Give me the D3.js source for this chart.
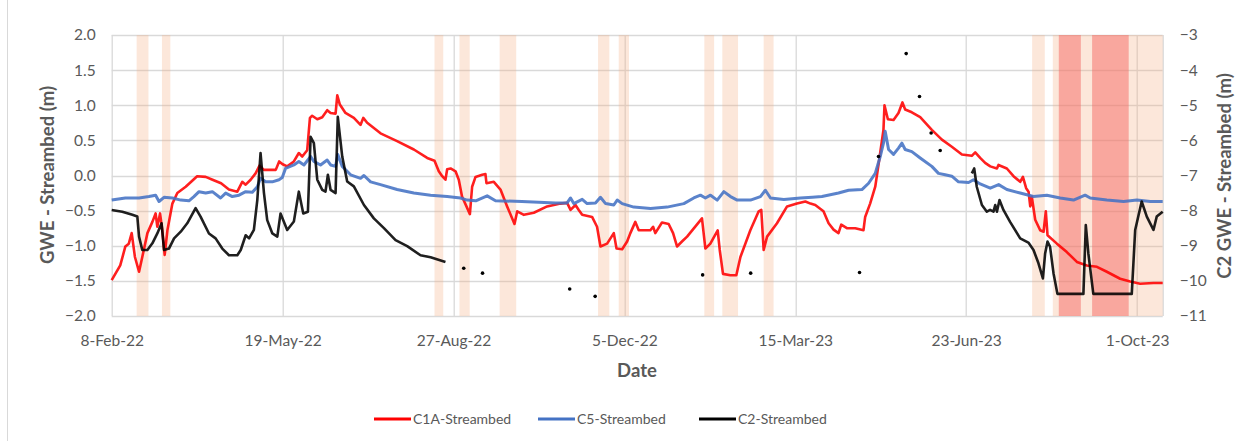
<!DOCTYPE html>
<html>
<head>
<meta charset="utf-8">
<script src="https://cdn.jsdelivr.net/npm/d3@7"></script>
<style>
body{margin:0;background:#fff;}
text{font-family:Lato, "Open Sans", sans-serif;fill:#595959;}
.title{font-weight:bold;font-size:18.5px;}
</style>
</head>
<body>
<div class="canvas"></div>
<script>
// days counted from 8-Feb-22
var startDate = new Date(2022,1,8), endDate = new Date(2023,9,16);
var xTickDays = [0,100,200,300,400,500,600];
var leftTicks = [-2,-1.5,-1,-0.5,0,0.5,1,1.5,2];
var rightTicks = [-11,-10,-9,-8,-7,-6,-5,-4,-3];

var c1aDay = [0,5,8,10,11.7,13.6,16,17.9,20.9,23.8,25.7,26.7,28.3,29.6,31,32.6,35.5,38.4,43.3,50,55,59,64,68.6,73.5,76.4,78.4,81.3,84.2,86.5,89,92,96,98,100,102.7,106.6,109.5,111.5,114.4,116,117.3,120.3,123.2,126.1,128.1,131,132,133.5,136.8,141.7,145.6,147.2,149.5,157.3,167,176.8,184.6,188.9,191.4,193.4,195.3,196.3,198.3,201.2,203.1,205,209.6,210.9,212.9,216.8,218.7,219.3,223.6,227.5,231.4,235.7,237.3,241.2,247,254.8,262.6,266.5,268.5,271.4,273.3,275.3,281.1,284,286,289.9,293.8,295.4,298.7,301.6,303.5,306.4,308.4,315.2,316.8,318.1,322,325.9,328.5,330.8,333.7,336.7,345.4,347.4,350.3,354.6,355.8,357.7,362,365.5,367.9,373.7,378.6,380.1,381.5,383.5,389.3,395.2,401,405.9,408.9,411.7,416.5,419.5,422.4,425.3,426.9,430.2,435.1,439.9,440.9,443.8,446.8,449.1,451.6,452.2,454.2,457.5,460.4,462.7,464.3,468.2,473.1,479.9,485.8,491.6,497.5,503.3,505.3,508.2,511.1,514.1,518,518.9,523.8,527.7,531.6,533.2,535.1,536.5,537.5,538.4,540.4,543.3,545.3,546.6,547.6,553.1,558.9,564.8,570.6,576.5,582.3,590.1,596,601.8,609.6,615];
var c1aVal = [-1.49,-1.28,-1.01,-0.97,-0.82,-1.16,-1.37,-1.16,-0.82,-0.66,-0.54,-0.73,-0.54,-0.78,-1.13,-0.78,-0.40,-0.25,-0.16,-0.01,-0.02,-0.06,-0.11,-0.20,-0.23,-0.09,-0.13,-0.06,0.03,0.14,0.08,0.08,0.08,0.20,0.16,0.13,0.20,0.32,0.27,0.36,0.82,0.85,0.80,0.83,0.93,0.89,0.88,1.14,1.01,0.89,0.82,0.72,0.82,0.75,0.60,0.49,0.37,0.25,0.21,0.06,-0.01,-0.06,0.09,0.10,0.06,-0.06,-0.30,-0.55,-0.16,-0.02,0.01,0.02,-0.11,-0.09,-0.20,-0.44,-0.69,-0.51,-0.56,-0.53,-0.44,-0.40,-0.39,-0.49,-0.42,-0.49,-0.56,-0.59,-0.73,-1.01,-0.97,-0.82,-1.04,-1.05,-0.94,-0.82,-0.66,-0.78,-0.78,-0.73,-0.82,-0.67,-0.69,-0.82,-1.01,-0.94,-0.87,-0.61,-1.04,-0.97,-0.78,-1.06,-1.40,-1.42,-1.42,-1.16,-0.78,-0.51,-0.49,-1.06,-0.87,-0.68,-0.44,-0.40,-0.37,-0.40,-0.42,-0.51,-0.68,-0.77,-0.82,-0.70,-0.75,-0.75,-0.78,-0.59,-0.40,-0.16,0.22,0.65,1.00,0.80,0.79,0.89,1.04,0.94,0.90,0.83,0.65,0.51,0.41,0.30,0.28,0.33,0.25,0.18,0.13,0.10,0.15,0.10,-0.01,-0.09,-0.02,-0.18,-0.23,-0.44,-0.30,-0.63,-0.78,-0.80,-0.51,-0.85,-0.97,-1.09,-1.23,-1.28,-1.30,-1.37,-1.47,-1.51,-1.54,-1.53,-1.53];

var c5Day = [0,8,16,21.8,25.7,27.7,30.6,35.5,40.4,45.2,48.1,51.1,55,58.9,63.7,66.7,70.6,74.5,78.4,82.3,85.2,87.1,90.1,94,97.9,99.8,101.7,106.6,109.5,112.5,116.4,118.3,122.2,126.1,128.1,131,132.3,134.9,139.8,145.6,147.6,151.5,157.3,167,176.8,186.6,196.3,204.1,208,213,219.7,224.6,240,259.7,266.5,268.5,270.4,275.3,278.2,283.1,286,289,293.8,295.8,298.7,305.5,315.3,325,334.8,340.6,344.5,347.4,350.4,354.3,358.2,362.1,366,373.8,379.6,382.5,385.5,393.3,403,410,415.6,425.3,431.2,439,442.9,446.8,449.7,451.6,452.6,454.6,457.5,460.4,462.4,464.3,468.2,473.1,479.9,483.8,487.7,491.6,495.5,501.4,504.3,508.2,514.1,519,523.8,531.6,539.4,547.2,555,562.8,569.6,572.6,582.3,592.1,599.9,607.7,615];
var c5Val = [-0.35,-0.32,-0.32,-0.30,-0.28,-0.37,-0.31,-0.32,-0.35,-0.36,-0.30,-0.23,-0.25,-0.23,-0.32,-0.25,-0.30,-0.28,-0.23,-0.24,-0.16,-0.04,-0.09,-0.09,-0.06,-0.03,0.10,0.15,0.20,0.15,0.27,0.20,0.15,0.22,0.15,0.13,0.30,0.13,0.01,-0.04,0.00,-0.09,-0.13,-0.20,-0.25,-0.28,-0.30,-0.32,-0.35,-0.36,-0.29,-0.36,-0.37,-0.39,-0.39,-0.32,-0.40,-0.34,-0.40,-0.39,-0.31,-0.40,-0.42,-0.35,-0.40,-0.45,-0.47,-0.45,-0.40,-0.32,-0.28,-0.32,-0.28,-0.35,-0.23,-0.30,-0.35,-0.35,-0.30,-0.21,-0.32,-0.34,-0.32,-0.31,-0.30,-0.25,-0.21,-0.20,-0.11,0.03,0.27,0.46,0.63,0.37,0.30,0.39,0.46,0.37,0.34,0.25,0.13,0.03,0.01,-0.01,-0.09,-0.10,-0.06,-0.12,-0.18,-0.13,-0.20,-0.25,-0.30,-0.28,-0.32,-0.35,-0.28,-0.32,-0.35,-0.37,-0.35,-0.37,-0.37];

// C2 logger record, null marks the gap
var c2Day = [0,6.2,12.1,15,16,17.9,20.9,23.8,26.7,29.2,30.6,33.5,36.5,40.4,44.2,49.1,52,56.9,60.8,64.7,68.6,73.5,75.5,78.4,80.4,83.2,85.2,87.1,89.1,91,94,96.9,98.8,102.7,106.6,109.5,112.1,114.8,116.4,118.3,120.3,123.2,125.1,126.5,128.1,131,132.3,134.9,137.8,141.7,147.6,153.4,159.3,166.1,172.9,180.7,186.6,195.3,300,503.3,504.7,506.2,509.2,512.1,514,516,517,518,519.5,521.8,525.7,531.6,536.4,539.4,542.3,544.9,546.2,547.6,549.1,551.1,553.4,568.6,570,571.5,574.4,596.9,598.9,602.7,605.7,609.6,611.5,615];
var c2Val = [-7.98,-8.03,-8.12,-8.17,-8.74,-9.12,-9.12,-8.93,-8.65,-8.36,-9.12,-9.08,-8.79,-8.60,-8.36,-7.93,-8.17,-8.65,-8.79,-9.08,-9.27,-9.27,-9.12,-8.70,-8.79,-8.55,-7.70,-6.36,-7.50,-8.27,-8.65,-8.74,-8.08,-8.55,-8.31,-7.46,-8.08,-8.03,-5.90,-6.08,-7.12,-7.41,-7.46,-6.98,-7.41,-7.50,-5.33,-6.46,-7.17,-7.31,-7.84,-8.22,-8.50,-8.84,-9.01,-9.27,-9.33,-9.46,null,-6.94,-6.80,-7.32,-7.84,-8.03,-7.98,-8.03,-7.84,-8.03,-7.70,-7.98,-8.32,-8.79,-8.91,-9.12,-9.50,-9.93,-9.22,-8.88,-9.03,-9.78,-10.37,-10.37,-8.41,-9.22,-10.37,-10.37,-8.55,-7.74,-8.17,-8.55,-8.17,-8.03];

// C2 manual readings
var c2DotDay = [206,217,268,282.9,345.8,373.9,437.6,448.7,464.9,472.7,479.5,484.8];
var c2DotVal = [-9.64,-9.78,-10.23,-10.44,-9.83,-9.78,-9.76,-6.46,-3.53,-4.75,-5.79,-6.29];

// shaded periods
var lightStart = [14.6,29.4,188.9,203.5,227,284.6,296.7,346.8,357.3,381.5,538.6,550.7];
var lightEnd   = [21.5,34.3,194,209.5,236.7,291.2,302.7,352.5,366.5,387.3,546,615];
var redStart = [554.2,573.7];
var redEnd   = [567.1,595.1];

var seriesNames = ['C1A-Streambed','C5-Streambed','C2-Streambed'];
var seriesColors = ['#ff0000','#4472c4','#000000'];

var pageWidth = 1244, pageHeight = 441;
var margins = {t:35,r:81.3,b:125,l:111.7};
var plotWidth = pageWidth - margins.l - margins.r,
    plotHeight = pageHeight - margins.t - margins.b;

function dayToDate(d){ return new Date(startDate.getTime() + d*864e5); }

var x = d3.scaleTime().domain([startDate,endDate]).range([0,plotWidth]);
var yL = d3.scaleLinear().domain([-2,2]).range([plotHeight,0]);
var yR = d3.scaleLinear().domain([-11,-3]).range([plotHeight,0]);

var svg = d3.select('.canvas')
    .append('svg')
    .attr('width',pageWidth)
    .attr('height',pageHeight);

// chart frame edge
svg.append('line')
    .attr('x1',7.5).attr('x2',7.5).attr('y1',0).attr('y2',pageHeight)
    .style('stroke','#d9d9d9');

var plot = svg.append('g')
    .attr('transform','translate('+margins.l+','+margins.t+')');

var xTickDates = xTickDays.map(dayToDate);

// gridlines
plot.selectAll('.hgrid')
    .data(leftTicks)
    .enter().append('line')
    .attr('x1',0).attr('x2',plotWidth)
    .attr('y1',function(d){return Math.round(yL(d))+0.5;})
    .attr('y2',function(d){return Math.round(yL(d))+0.5;})
    .style('stroke','#d9d9d9').style('stroke-width',1.3);
plot.selectAll('.vgrid')
    .data(xTickDates.concat([endDate]))
    .enter().append('line')
    .attr('x1',function(d){return Math.round(x(d))+0.5;})
    .attr('x2',function(d){return Math.round(x(d))+0.5;})
    .attr('y1',0).attr('y2',plotHeight)
    .style('stroke','#d9d9d9').style('stroke-width',1.3);

// bands
var bands = plot.append('g');
bands.selectAll('.light')
    .data(d3.range(lightStart.length))
    .enter().append('rect')
    .attr('x',function(i){return x(dayToDate(lightStart[i]));})
    .attr('width',function(i){return x(dayToDate(lightEnd[i])) - x(dayToDate(lightStart[i]));})
    .attr('y',0).attr('height',plotHeight)
    .style('fill','#f4b183').style('opacity',0.3);
bands.selectAll('.red')
    .data(d3.range(redStart.length))
    .enter().append('rect')
    .attr('x',function(i){return x(dayToDate(redStart[i]));})
    .attr('width',function(i){return x(dayToDate(redEnd[i])) - x(dayToDate(redStart[i]));})
    .attr('y',0).attr('height',plotHeight)
    .style('fill','#f66862').style('opacity',0.5);

// lines
function drawLine(days, vals, yScale, color, w){
    var line = d3.line()
        .defined(function(i){return vals[i] !== null;})
        .x(function(i){return x(dayToDate(days[i]));})
        .y(function(i){return yScale(vals[i]);});
    plot.append('path')
        .attr('d', line(d3.range(days.length)))
        .style('fill','none')
        .style('stroke',color)
        .style('stroke-width',w)
        .style('stroke-opacity',0.88)
        .style('stroke-linejoin','round');
}
drawLine(c1aDay, c1aVal, yL, seriesColors[0], 2.6);
drawLine(c5Day, c5Val, yL, seriesColors[1], 3);
drawLine(c2Day, c2Val, yR, seriesColors[2], 2.6);

plot.selectAll('.dot')
    .data(d3.range(c2DotDay.length))
    .enter().append('circle')
    .attr('cx',function(i){return x(dayToDate(c2DotDay[i]));})
    .attr('cy',function(i){return yR(c2DotVal[i]);})
    .attr('r',1.8)
    .style('fill','#000');

// axes
var axL = plot.append('g')
    .call(d3.axisLeft(yL).tickValues(leftTicks).tickSize(0).tickPadding(16).tickFormat(d3.format('.1f')));
var axR = plot.append('g')
    .attr('transform','translate('+plotWidth+',0)')
    .call(d3.axisRight(yR).tickValues(rightTicks).tickSize(0).tickPadding(17).tickFormat(d3.format('d')));
var axB = plot.append('g')
    .attr('transform','translate(0,'+plotHeight+')')
    .call(d3.axisBottom(x).tickValues(xTickDates).tickSize(0).tickPadding(19).tickFormat(d3.timeFormat('%-d-%b-%y')));
[axL,axR,axB].forEach(function(a){
    a.select('.domain').remove();
    a.selectAll('text').style('font-size','15.5px').style('font-family','Lato, sans-serif').style('fill','#595959');
});

// titles
svg.append('text').attr('class','title')
    .attr('transform','translate(48,175) rotate(-90)')
    .attr('text-anchor','middle').attr('dy','0.35em')
    .text('GWE - Streambed (m)');
svg.append('text').attr('class','title')
    .attr('transform','translate(1225,176) rotate(-90)')
    .attr('text-anchor','middle').attr('dy','0.35em')
    .text('C2 GWE - Streambed (m)');
svg.append('text').attr('class','title')
    .attr('x',637).attr('y',371)
    .attr('text-anchor','middle').attr('dy','0.35em')
    .text('Date');

// legend
var legendX = [374,538,699];
var legend = svg.selectAll('.legend')
    .data(seriesNames)
    .enter().append('g')
    .attr('transform',function(d,i){return 'translate('+legendX[i]+',419)';});
legend.append('line')
    .attr('x1',0).attr('x2',37)
    .style('stroke',function(d,i){return seriesColors[i];})
    .style('stroke-width',3);
legend.append('text')
    .attr('x',39).attr('dy','0.35em')
    .style('font-size','14px')
    .text(function(d){return d;});
</script>
</body>
</html>
